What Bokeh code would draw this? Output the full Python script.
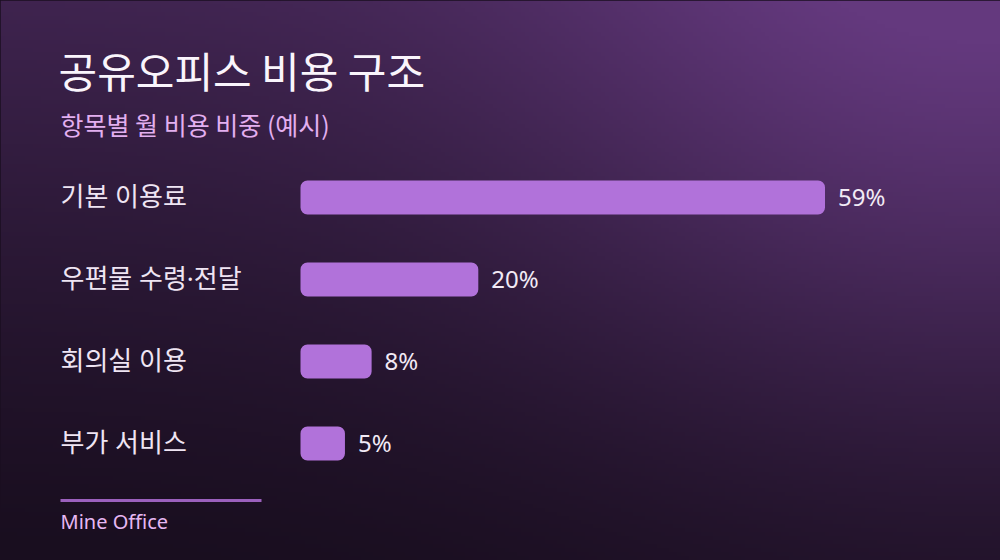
import numpy as np
from bokeh.plotting import figure
from bokeh.models import Range1d, Label, ColumnDataSource, BoxAnnotation
from bokeh.core.properties import value
from bokeh.embed import file_html
from bokeh.resources import INLINE

# ---- data ----
categories = ["기본 이용료", "우편물 수령·전달", "회의실 이용", "부가 서비스"]
shares = [59, 20, 8, 5]
value_labels = ["59%", "20%", "8%", "5%"]
title_text = "공유오피스 비용 구조"
subtitle_text = "항목별 월 비용 비중 (예시)"
footer_text = "Mine Office"

W, H = 1000, 560
PX_PER_PCT = 8.89
BAR_X0 = 300
ROW_PX = 82
FIRST_ROW = 197

x0 = -BAR_X0 / PX_PER_PCT
x1 = (W - BAR_X0) / PX_PER_PCT
ytop = -FIRST_ROW / ROW_PX
ybot = ytop + H / ROW_PX

p = figure(width=W, height=H, x_range=Range1d(x0, x1), y_range=Range1d(ybot, ytop),
           output_backend="svg", toolbar_location=None, min_border=0,
           outline_line_color=None)
p.xaxis.visible = False
p.yaxis.visible = False
p.xgrid.visible = False
p.ygrid.visible = False
p.background_fill_color = "#1a0f20"
p.border_fill_color = "#1a0f20"

# ---- background gradient (row 0 = top of page) ----
ny, nx = 140, 250
yy, xx = np.mgrid[0:ny, 0:nx]
px = xx / (nx - 1) * W
py = yy / (ny - 1) * H
t = 0.5 * np.clip(1 - py / H, 0, 1) ** 1.3 + 0.55 * np.exp(-((px - 980) ** 2 + (py - 10) ** 2) / (2 * 330 ** 2))
t = np.clip(t, 0, 1)
dark = np.array([0x19, 0x0e, 0x1f], dtype=float)
light = np.array([0x64, 0x39, 0x7e], dtype=float)
rgb = dark[None, None, :] * (1 - t[..., None]) + light[None, None, :] * t[..., None]
img = np.zeros((ny, nx), dtype=np.uint32)
view = img.view(dtype=np.uint8).reshape((ny, nx, 4))
view[..., 0] = rgb[..., 0].astype(np.uint8)
view[..., 1] = rgb[..., 1].astype(np.uint8)
view[..., 2] = rgb[..., 2].astype(np.uint8)
view[..., 3] = 255
img = img[::-1].copy()
p.image_rgba(image=[img], x=x0, y=ytop, dw=x1 - x0, dh=ybot - ytop, origin="top_left")

# ---- bars ----
idx = list(range(len(categories)))
src = ColumnDataSource(dict(y=idx, right=shares, cat=categories, lab=value_labels,
                            xs=[x0] * len(idx)))
p.hbar(y="y", left=0, right="right", height=34 / ROW_PX, source=src,
       fill_color="#b172da", line_color=None, border_radius=7)

p.text(x="xs", y="y", text="cat", source=src, x_offset=60, y_offset=-2,
       text_font=value("Noto Sans, Noto Sans CJK KR"), text_font_size="26px",
       text_color="#efe5f3", text_baseline="middle", text_align="left")
p.text(x="right", y="y", text="lab", source=src, x_offset=13, y_offset=-1.5,
       text_font=value("Noto Sans"), text_font_size="24px",
       text_color="#f2eaf5", text_baseline="middle", text_align="left")

# ---- titles ----
p.add_layout(Label(x=58, y=H - 69, x_units="screen", y_units="screen", text=title_text,
                   text_font="Noto Sans CJK KR", text_font_size="42px", text_color="#faf5fc",
                   text_baseline="middle"))
p.add_layout(Label(x=60, y=H - 123, x_units="screen", y_units="screen", text=subtitle_text,
                   text_font="Noto Sans CJK KR", text_font_size="25px", text_color="#e3aff0",
                   text_baseline="middle"))

# ---- footer ----
p.add_layout(BoxAnnotation(left=60, right=261, top=H - 498.5, bottom=H - 501.5,
                           left_units="screen", right_units="screen",
                           top_units="screen", bottom_units="screen",
                           fill_color="#9b60bd", fill_alpha=1, line_color=None))
p.add_layout(Label(x=60, y=H - 521, x_units="screen", y_units="screen", text=footer_text,
                   text_font="Noto Sans", text_font_size="20px", text_color="#e6b8f2",
                   text_baseline="middle"))

html = file_html(p, INLINE)
html = html.replace("<head>", "<head><style>html,body{margin:0;padding:0;background:#1a0f20;overflow:hidden}</style>", 1)
open("out.html", "w").write(html)
